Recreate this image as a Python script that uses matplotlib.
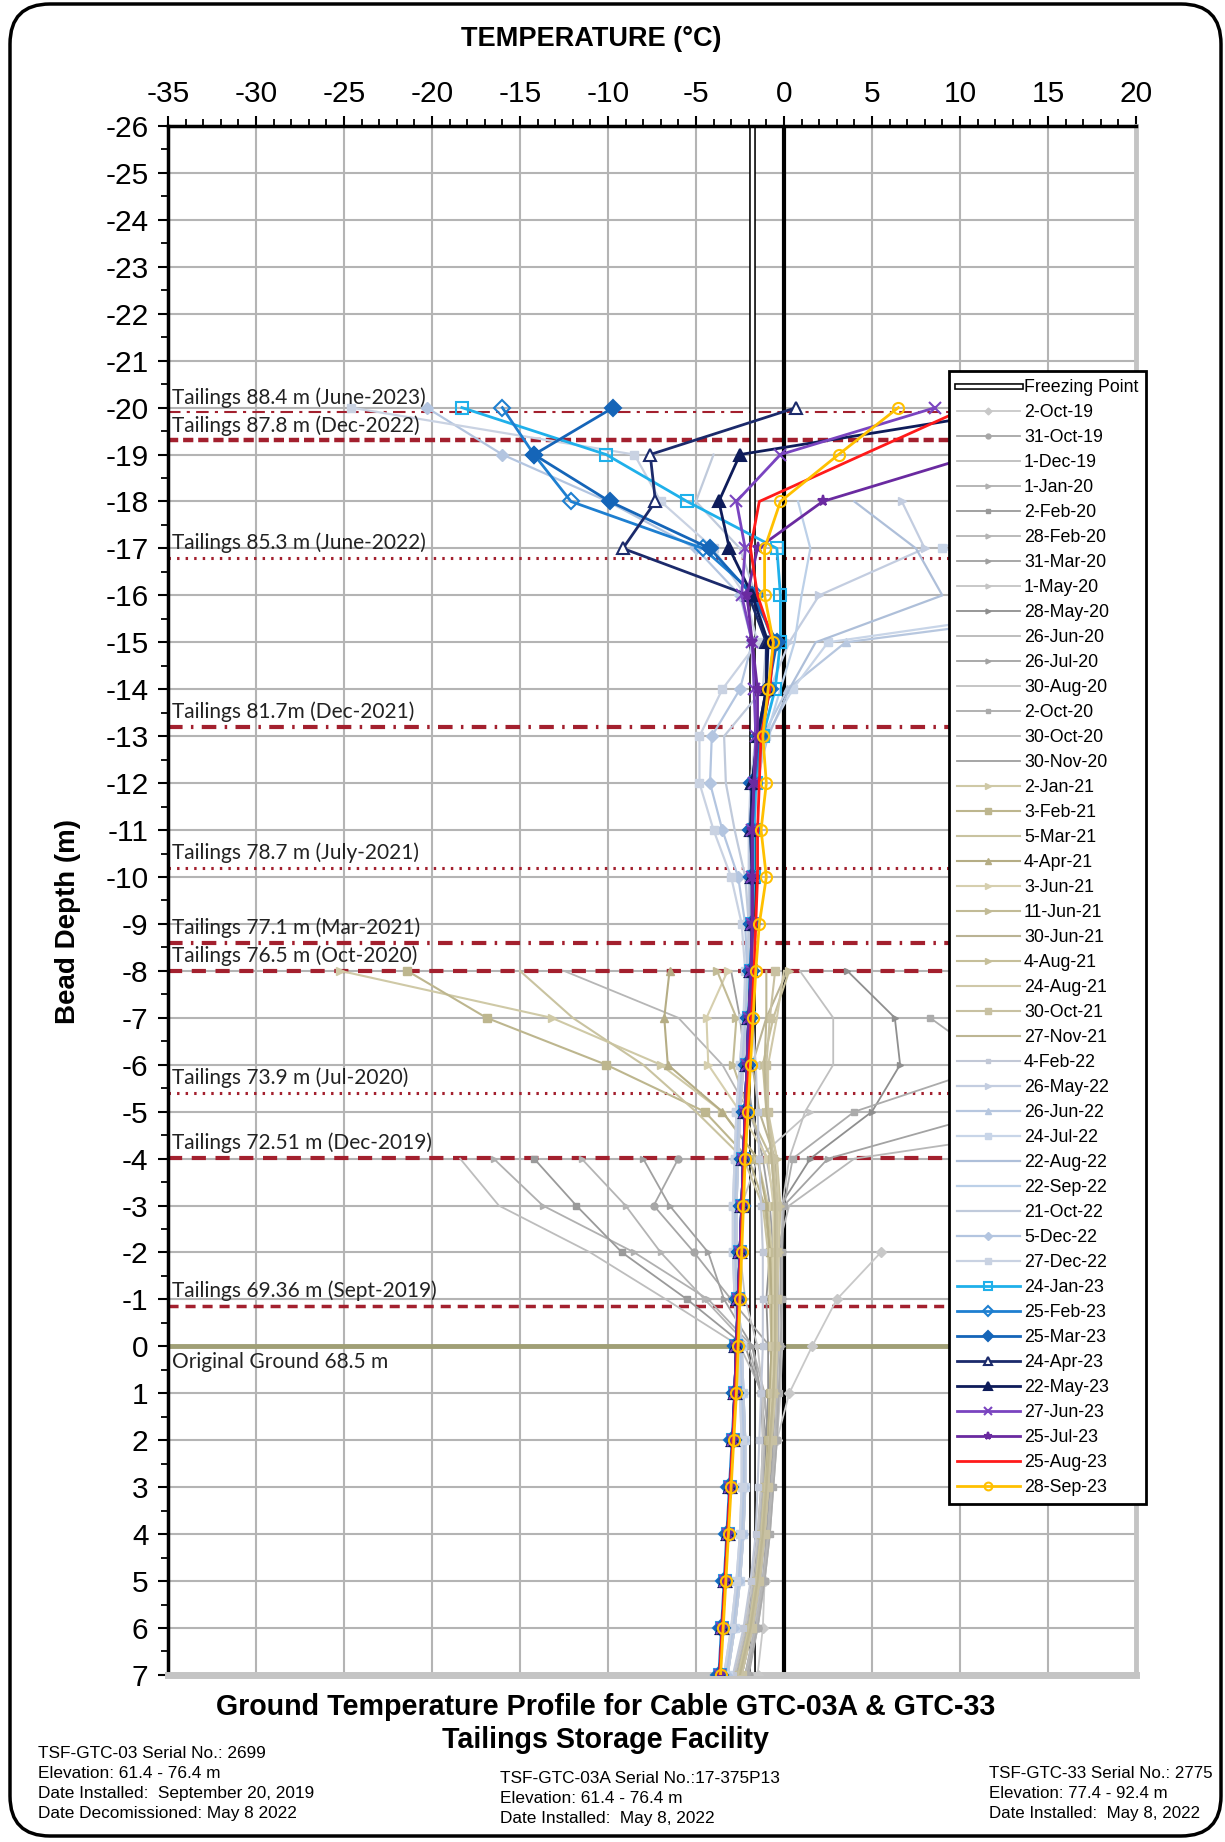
import numpy as np
import matplotlib.pyplot as plt
import matplotlib.patheffects as pe
from matplotlib.patches import FancyBboxPatch
from matplotlib.transforms import IdentityTransform
from matplotlib.ticker import MultipleLocator

plt.rcParams['font.family'] = ['Liberation Sans', 'DejaVu Sans']
plt.rcParams['axes.unicode_minus'] = False

nan = np.nan

# bead depths (m), top to bottom
depth_03 = [-8, -7, -6, -5, -4, -3, -2, -1, 0, 1, 2, 3, 4, 5, 6, 7]
depth_all = [-20, -19, -18, -17, -16, -15, -14, -13, -12, -11, -10, -9,
             -8, -7, -6, -5, -4, -3, -2, -1, 0, 1, 2, 3, 4, 5, 6, 7]

freezing_point = -1.8
ground_elev = 68.5

tailings_elev = [88.4, 87.8, 85.3, 81.7, 78.7, 77.1, 76.5, 73.9, 72.51, 69.36]
tailings_text = ['Tailings 88.4 m (June-2023)', 'Tailings 87.8 m (Dec-2022)',
                 'Tailings 85.3 m (June-2022)', 'Tailings 81.7m (Dec-2021)',
                 'Tailings 78.7 m (July-2021)', 'Tailings 77.1 m (Mar-2021)',
                 'Tailings 76.5 m (Oct-2020)', 'Tailings 73.9 m (Jul-2020)',
                 'Tailings 72.51 m (Dec-2019)', 'Tailings 69.36 m (Sept-2019)']

# GTC-03 readings 2019-2020 (depth_03)
oct19_02 = [nan, nan, nan, nan, nan, nan, 5.5, 3.0, 1.6, 0.3, -0.4, -0.9, -1.0, -1.1, -1.2, -1.5]
oct19_31 = [nan, nan, nan, nan, -6.0, -7.4, -5.1, -3.0, -0.8, -0.5, -0.6, -0.8, -1.0, -1.2, -1.5, -2.0]
dec19_01 = [nan, nan, nan, nan, -18.4, -16.2, -11.0, -6.7, -2.5, -1.2, -0.8, -0.9, -1.1, -1.3, -1.7, -2.2]
jan20_01 = [nan, nan, nan, nan, -16.5, -13.7, -8.5, -4.3, -1.8, -1.1, -0.9, -1.0, -1.2, -1.5, -1.9, -2.5]
feb20_02 = [nan, nan, nan, nan, -14.2, -11.8, -9.2, -5.5, -2.2, -1.3, -1.0, -1.1, -1.3, -1.6, -2.0, -2.6]
feb20_28 = [nan, nan, nan, nan, -11.5, -9.0, -7.0, -4.5, -2.0, -1.3, -1.1, -1.2, -1.4, -1.7, -2.1, -2.7]
mar20_31 = [nan, nan, nan, nan, -8.0, -6.5, -4.3, -3.4, -1.8, -1.3, -1.2, -1.3, -1.5, -1.8, -2.2, -2.8]
may20_01 = [nan, nan, nan, 1.5, -1.5, -2.4, -2.5, -2.2, -1.5, -1.2, -1.2, -1.3, -1.5, -1.8, -2.2, -2.8]
may20_28 = [3.6, 6.3, 6.6, 5.0, 1.5, -0.2, -0.8, -1.0, -0.9, -0.9, -1.0, -1.1, -1.3, -1.6, -2.0, -2.6]
jun20_26 = [nan, nan, 24.0, 22.0, 4.0, 0.3, -0.4, -0.6, -0.4, -0.5, -0.7, -0.9, -1.1, -1.4, -1.8, -2.4]
jul20_26 = [nan, 25.0, 21.0, 12.0, 2.5, 0.0, -0.2, -0.2, -0.1, -0.3, -0.5, -0.7, -0.9, -1.2, -1.6, -2.2]
aug20_30 = [0.9, 2.8, 2.8, 1.2, 0.3, -0.1, -0.1, -0.1, -0.1, -0.2, -0.4, -0.6, -0.8, -1.1, -1.5, -2.1]
oct20_02 = [nan, 8.3, 12.0, 4.0, 0.5, 0.0, -0.1, -0.1, -0.2, -0.3, -0.4, -0.6, -0.8, -1.1, -1.5, -2.1]
oct20_30 = [-12.5, -6.0, -3.5, -2.0, -1.0, -0.5, -0.4, -0.3, -0.3, -0.4, -0.5, -0.7, -0.9, -1.2, -1.6, -2.2]
nov20_30 = [-3.0, -2.5, -2.2, -1.8, -1.2, -0.8, -0.6, -0.5, -0.5, -0.6, -0.7, -0.9, -1.1, -1.4, -1.8, -2.4]

# GTC-03 readings 2021 - Feb 2022 (depth_03)
jan21_02 = [-25.2, -13.2, -7.0, -3.5, -1.5, -0.9, -0.7, -0.6, -0.6, -0.7, -0.8, -1.0, -1.2, -1.5, -1.9, -2.5]
feb21_03 = [-21.4, -16.9, -10.1, -4.5, -2.0, -1.1, -0.8, -0.7, -0.7, -0.8, -0.9, -1.1, -1.3, -1.6, -2.0, -2.6]
mar21_05 = [-15.0, -12.0, -8.0, -5.0, -2.3, -1.2, -0.9, -0.8, -0.7, -0.8, -0.9, -1.1, -1.3, -1.6, -2.0, -2.6]
apr21_04 = [-6.5, -6.8, -6.6, -3.5, -1.5, -1.0, -0.8, -0.7, -0.7, -0.8, -0.9, -1.0, -1.2, -1.5, -1.9, -2.5]
jun21_03 = [-3.2, -4.4, -4.3, -2.5, -0.9, -0.6, -0.6, -0.6, -0.6, -0.7, -0.8, -1.0, -1.2, -1.5, -1.9, -2.5]
jun21_11 = [-3.8, -2.7, -2.9, -2.0, -0.7, -0.5, -0.5, -0.5, -0.5, -0.6, -0.8, -1.0, -1.2, -1.5, -1.9, -2.5]
jun21_30 = [0.2, -1.0, -1.8, -1.4, -0.5, -0.3, -0.4, -0.5, -0.5, -0.6, -0.7, -0.9, -1.1, -1.4, -1.8, -2.4]
aug21_04 = [0.3, -0.6, -1.2, -1.0, -0.4, -0.2, -0.3, -0.4, -0.4, -0.5, -0.7, -0.9, -1.1, -1.4, -1.8, -2.4]
aug21_24 = [0.0, -0.4, -0.9, -0.9, -0.4, -0.3, -0.3, -0.4, -0.4, -0.5, -0.7, -0.9, -1.1, -1.4, -1.8, -2.4]
oct21_30 = [-0.5, -0.8, -1.0, -0.9, -0.6, -0.4, -0.4, -0.4, -0.5, -0.6, -0.7, -0.9, -1.1, -1.4, -1.8, -2.4]
nov21_27 = [-1.0, -1.0, -1.1, -1.0, -0.7, -0.5, -0.5, -0.5, -0.5, -0.6, -0.8, -1.0, -1.2, -1.5, -1.9, -2.5]
feb22_04 = [-2.0, -1.8, -1.6, -1.5, -1.4, -1.3, -1.2, -1.2, -1.2, -1.3, -1.4, -1.5, -1.6, -1.9, -2.3, -2.9]

# GTC-03A + GTC-33 readings (depth_all)
may22_26 = [nan, nan, 6.7, 8.0, 2.0, 0.3, -0.8, -1.6, -1.9, -2.0, -2.0, -2.0, -2.1, -2.3, -2.5, -2.7,
            -2.8, -2.9, -2.9, -2.8, -2.6, -2.5, -2.4, -2.4, -2.5, -2.7, -3.0, -3.4]
jun22_26 = [nan, nan, 11.0, 16.0, 24.0, 3.5, 0.2, -1.2, -1.8, -1.9, -1.9, -1.9, -2.0, -2.2, -2.4, -2.6,
            -2.7, -2.8, -2.8, -2.7, -2.5, -2.4, -2.3, -2.3, -2.4, -2.6, -2.9, -3.3]
jul22_24 = [nan, nan, 14.0, 9.0, 21.0, 2.5, 0.5, -1.0, -1.7, -1.8, -1.8, -1.8, -1.9, -2.1, -2.3, -2.5,
            -2.6, -2.7, -2.7, -2.6, -2.4, -2.3, -2.2, -2.2, -2.3, -2.5, -2.8, -3.2]
aug22_22 = [nan, nan, 4.0, 7.5, 9.0, 1.8, 0.3, -0.9, -1.6, -1.8, -1.8, -1.8, -1.9, -2.1, -2.3, -2.5,
            -2.6, -2.7, -2.7, -2.6, -2.4, -2.3, -2.2, -2.2, -2.3, -2.5, -2.8, -3.2]
sep22_22 = [nan, nan, 0.8, 1.5, 1.0, 0.6, -0.2, -1.0, -1.5, -1.7, -1.8, -1.8, -1.9, -2.1, -2.3, -2.5,
            -2.6, -2.7, -2.7, -2.6, -2.4, -2.3, -2.2, -2.2, -2.3, -2.5, -2.8, -3.2]
oct22_21 = [nan, -4.0, -5.0, -2.5, -1.6, -1.0, -1.2, -3.4, -3.3, -2.8, -2.2, -2.0, -2.0, -2.1, -2.3, -2.5,
            -2.6, -2.7, -2.7, -2.6, -2.4, -2.3, -2.2, -2.2, -2.3, -2.5, -2.8, -3.2]
dec22_05 = [-20.3, -16.0, -10.0, -5.0, -2.5, -1.8, -2.5, -4.1, -4.2, -3.5, -2.6, -2.2, -2.1, -2.2, -2.4, -2.6,
            -2.7, -2.8, -2.8, -2.7, -2.5, -2.4, -2.3, -2.3, -2.4, -2.6, -2.9, -3.3]
dec22_27 = [-24.6, -8.5, -7.0, -4.0, -2.2, -1.5, -3.5, -4.8, -4.8, -4.0, -3.0, -2.4, -2.2, -2.3, -2.5, -2.7,
            -2.8, -2.9, -2.9, -2.8, -2.6, -2.5, -2.4, -2.4, -2.5, -2.7, -3.0, -3.4]
jan23_24 = [-18.3, -10.1, -5.5, -0.4, -0.2, -0.2, -0.5, -1.2, -1.6, -1.7, -1.7, -1.8, -1.9, -2.0, -2.1, -2.2,
            -2.3, -2.4, -2.5, -2.6, -2.7, -2.8, -2.9, -3.05, -3.2, -3.35, -3.5, -3.65]
feb23_25 = [-16.0, -14.2, -12.1, -4.6, -1.6, -0.6, -0.8, -1.3, -1.7, -1.8, -1.8, -1.8, -1.9, -2.0, -2.1, -2.2,
            -2.3, -2.4, -2.5, -2.6, -2.7, -2.8, -2.95, -3.1, -3.25, -3.4, -3.55, -3.7]
mar23_25 = [-9.7, -14.2, -9.9, -4.2, -1.8, -0.4, -0.9, -1.4, -1.8, -1.9, -1.8, -1.8, -1.9, -2.0, -2.1, -2.2,
            -2.3, -2.4, -2.5, -2.6, -2.7, -2.8, -2.9, -3.05, -3.2, -3.35, -3.5, -3.65]
apr23_24 = [0.7, -7.6, -7.3, -9.15, -2.0, -1.0, -1.0, -1.5, -1.8, -1.9, -1.8, -1.8, -1.85, -2.0, -2.1, -2.2,
            -2.3, -2.4, -2.5, -2.6, -2.7, -2.8, -2.9, -3.05, -3.2, -3.35, -3.5, -3.65]
may23_22 = [14.0, -2.5, -3.7, -3.1, -1.8, -0.9, -1.0, -1.5, -1.8, -1.8, -1.8, -1.8, -1.85, -2.0, -2.1, -2.2,
            -2.3, -2.4, -2.5, -2.6, -2.7, -2.8, -2.9, -3.05, -3.2, -3.35, -3.5, -3.65]
jun23_27 = [8.6, -0.2, -2.7, -2.2, -2.4, -1.8, -1.7, -1.6, -1.7, -1.8, -1.8, -1.8, -1.85, -2.0, -2.1, -2.2,
            -2.3, -2.4, -2.5, -2.6, -2.7, -2.8, -2.9, -3.05, -3.2, -3.35, -3.5, -3.65]
jul23_25 = [20.0, 11.0, 2.2, -1.5, -2.1, -1.8, -1.5, -1.5, -1.7, -1.8, -1.8, -1.8, -1.85, -2.0, -2.1, -2.2,
            -2.3, -2.4, -2.5, -2.6, -2.7, -2.8, -2.9, -3.05, -3.2, -3.35, -3.5, -3.65]
aug23_25 = [10.4, 4.5, -1.4, -1.9, -1.5, -0.6, -0.8, -1.3, -1.4, -1.5, -1.5, -1.6, -1.7, -1.85, -2.0, -2.15,
            -2.25, -2.35, -2.45, -2.55, -2.65, -2.75, -2.9, -3.05, -3.2, -3.35, -3.5, -3.65]
sep23_28 = [6.5, 3.1, -0.2, -1.1, -1.1, -0.6, -0.9, -1.2, -1.0, -1.3, -1.0, -1.4, -1.6, -1.75, -1.9, -2.05,
            -2.2, -2.3, -2.4, -2.5, -2.6, -2.7, -2.85, -3.0, -3.15, -3.3, -3.45, -3.6]

grey_series = [oct19_02, oct19_31, dec19_01, jan20_01, feb20_02, feb20_28, mar20_31, may20_01,
               may20_28, jun20_26, jul20_26, aug20_30, oct20_02, oct20_30, nov20_30]
grey_labels = ['2-Oct-19', '31-Oct-19', '1-Dec-19', '1-Jan-20', '2-Feb-20', '28-Feb-20', '31-Mar-20',
               '1-May-20', '28-May-20', '26-Jun-20', '26-Jul-20', '30-Aug-20', '2-Oct-20',
               '30-Oct-20', '30-Nov-20']
khaki_series = [jan21_02, feb21_03, mar21_05, apr21_04, jun21_03, jun21_11, jun21_30,
                aug21_04, aug21_24, oct21_30, nov21_27]
khaki_labels = ['2-Jan-21', '3-Feb-21', '5-Mar-21', '4-Apr-21', '3-Jun-21', '11-Jun-21',
                '30-Jun-21', '4-Aug-21', '24-Aug-21', '30-Oct-21', '27-Nov-21']
pale_series = [may22_26, jun22_26, jul22_24, aug22_22, sep22_22, oct22_21, dec22_05, dec22_27]
pale_labels = ['26-May-22', '26-Jun-22', '24-Jul-22', '22-Aug-22', '22-Sep-22', '21-Oct-22',
               '5-Dec-22', '27-Dec-22']
new_series = [jan23_24, feb23_25, mar23_25, apr23_24, may23_22, jun23_27, jul23_25, aug23_25, sep23_28]
new_labels = ['24-Jan-23', '25-Feb-23', '25-Mar-23', '24-Apr-23', '22-May-23', '27-Jun-23',
              '25-Jul-23', '25-Aug-23', '28-Sep-23']

# styles
grey_colors = ['#c8c8c8', '#a6a6a6', '#bdbdbd', '#b0b0b0', '#9a9a9a', '#b4b4b4', '#a0a0a0',
               '#c4c4c4', '#8f8f8f', '#b8b8b8', '#a3a3a3', '#c0c0c0', '#ababab', '#b6b6b6', '#9e9e9e']
grey_markers = ['D', 'o', 'None', '>', 's', '>', '>', '>', '>', 'None', '>', 'None', 's', 'None', 'None']
khaki_colors = ['#cfc9a6', '#bdb68e', '#c9c3a0', '#b5ad85', '#d6cfae', '#c2bb96', '#bab394',
                '#c6bf9a', '#cfc8a8', '#c8c1a2', '#bdb693']
khaki_markers = ['>', 's', 'None', '^', '>', '>', 'None', '>', 'None', 's', 'None']
pale_colors = ['#c3cde0', '#b7c7df', '#c8d5e8', '#aebfd9', '#bcd0e8', '#c0cadb', '#b3c5e0', '#c9d2e2']
pale_markers = ['>', '^', 's', 'None', 'None', 'None', 'D', 's']
new_colors = ['#1fb0ea', '#1e7fd0', '#1565b8', '#1b2a6b', '#0e1c5a', '#7a44c0', '#6a2aa0', '#ff1a1a', '#ffc000']
new_markers = ['s', 'D', 'D', '^', '^', 'x', '*', 'None', 'o']
new_fill = ['none', 'none', None, 'white', None, None, None, None, 'none']

fig = plt.figure(figsize=(12.25, 18.42), dpi=100)
ax = fig.add_axes([0.1371, 0.0907, 0.7902, 0.8409])

ax.set_xlim(-35, 20)
ax.set_ylim(7, -26)
ax.xaxis.tick_top()
ax.xaxis.set_major_locator(MultipleLocator(5))
ax.xaxis.set_minor_locator(MultipleLocator(1))
ax.yaxis.set_major_locator(MultipleLocator(1))
ax.yaxis.set_minor_locator(MultipleLocator(0.5))
ax.tick_params(axis='both', which='major', direction='out', length=7, width=1.5,
               labelsize=21.5, color='black')
ax.tick_params(axis='both', which='minor', direction='out', length=5, width=1.3, color='black')
ax.tick_params(axis='x', pad=6)
ax.tick_params(axis='y', pad=7)
ax.grid(True, which='major', color='#b4b4b4', lw=1.5, zorder=0)
ax.set_axisbelow(True)
for side in ['left', 'top']:
    ax.spines[side].set_linewidth(2.5)
ax.spines['right'].set_color('#c4c4c4')
ax.spines['right'].set_linewidth(3.5)
ax.spines['bottom'].set_color('#c4c4c4')
ax.spines['bottom'].set_linewidth(5)

# tailings surfaces
line_styles = [(0, (6, 3, 1.5, 3)), (0, (2.3, 1.1)), (0, (0.8, 2.0)), (0, (3.5, 2, 0.6, 2)),
               (0, (0.8, 2.0)), (0, (3.5, 2, 0.6, 2)), (0, (3.4, 2.3)), (0, (0.8, 2.0)),
               (0, (3.4, 2.3)), (0, (2.9, 2.0))]
line_widths = [1.5, 3.2, 2.2, 3.0, 2.2, 3.0, 3.0, 2.2, 3.0, 2.5]
for elev, txt, ls, lw in zip(tailings_elev, tailings_text, line_styles, line_widths):
    d = ground_elev - elev
    ax.axhline(d, color='#a3202e', ls=ls, lw=lw, zorder=2)
    ax.text(-34.75, d - 0.32, txt, family=['Lato', 'DejaVu Sans'], fontsize=15,
            va='center', ha='left', color='#222222', zorder=6)
ax.axhline(0, color='#a09f76', lw=3.5, zorder=2)
ax.text(-34.75, 0.33, 'Original Ground 68.5 m', family=['Lato', 'DejaVu Sans'], fontsize=15,
        va='center', ha='left', color='#222222', zorder=6)

# freezing point and 0 degC
handles = []
fp = ax.axvline(freezing_point, color='white', lw=2.5, zorder=2.5, label='Freezing Point',
                path_effects=[pe.Stroke(linewidth=4.8, foreground='black'), pe.Normal()])
handles.append(fp)
ax.axvline(0, color='black', lw=3, zorder=2.5)

for vals, lab, col, mk in zip(grey_series, grey_labels, grey_colors, grey_markers):
    h, = ax.plot(vals, depth_03, color=col, marker=mk, ms=5, lw=1.3, label=lab, zorder=3)
    handles.append(h)
for vals, lab, col, mk in zip(khaki_series, khaki_labels, khaki_colors, khaki_markers):
    h, = ax.plot(vals, depth_03, color=col, marker=mk, ms=6, lw=1.5, label=lab, zorder=3)
    handles.append(h)
h, = ax.plot(feb22_04, depth_03, color='#c2c8d6', marker='s', ms=5, lw=1.5, label='4-Feb-22', zorder=3)
handles.append(h)
for vals, lab, col, mk in zip(pale_series, pale_labels, pale_colors, pale_markers):
    h, = ax.plot(vals, depth_all, color=col, marker=mk, ms=6, lw=1.6, label=lab, zorder=3)
    handles.append(h)
for vals, lab, col, mk, mf in zip(new_series, new_labels, new_colors, new_markers, new_fill):
    kw = {} if mf is None else {'mfc': mf}
    h, = ax.plot(vals, depth_all, color=col, marker=mk, ms=8, mew=1.5, lw=2.0, label=lab,
                 zorder=4, **kw)
    handles.append(h)

leg = ax.legend(handles=handles, loc='upper left', bbox_to_anchor=(0.775, 0.7986),
                bbox_transform=fig.transFigure, borderaxespad=0, fontsize=12.8,
                labelspacing=0.45, handlelength=3.5, handletextpad=0.25, borderpad=0.45,
                fancybox=False, framealpha=1, edgecolor='black', markerscale=0.7)
leg.get_frame().set_linewidth(2)
leg.set_zorder(10)

fig.text(0.4825, 1 - 39 / 1842, 'TEMPERATURE (\u00b0C)', fontsize=19.5, fontweight='bold',
         ha='center', va='center')
fig.text(0.0555, 0.4995, 'Bead Depth (m)', fontsize=20, fontweight='bold', rotation=90,
         ha='center', va='center')
fig.text(0.494, 1 - 1707 / 1842, 'Ground Temperature Profile for Cable GTC-03A & GTC-33',
         fontsize=20.6, fontweight='bold', ha='center', va='center')
fig.text(0.494, 1 - 1740 / 1842, 'Tailings Storage Facility', fontsize=20.6, fontweight='bold',
         ha='center', va='center')

info_left = ['TSF-GTC-03 Serial No.: 2699', 'Elevation: 61.4 - 76.4 m',
             'Date Installed:  September 20, 2019', 'Date Decomissioned: May 8 2022']
info_mid = ['TSF-GTC-03A Serial No.:17-375P13', 'Elevation: 61.4 - 76.4 m',
            'Date Installed:  May 8, 2022']
info_right = ['TSF-GTC-33 Serial No.: 2775', 'Elevation: 77.4 - 92.4 m',
              'Date Installed:  May 8, 2022']
for i, t in enumerate(info_left):
    fig.text(38 / 1225, 1 - (1753 + 20 * i) / 1842, t, fontsize=12.4, va='center', ha='left')
for i, t in enumerate(info_mid):
    fig.text(500 / 1225, 1 - (1778 + 20 * i) / 1842, t, fontsize=12.4, va='center', ha='left')
for i, t in enumerate(info_right):
    fig.text(989 / 1225, 1 - (1773 + 20 * i) / 1842, t, fontsize=12.2, va='center', ha='left')

border = FancyBboxPatch((10, 6), 1211, 1832, boxstyle='round,pad=0,rounding_size=40',
                        transform=IdentityTransform(), fill=False, lw=2.5, ec='black')
fig.add_artist(border)

fig.savefig('out.png', dpi=100)
